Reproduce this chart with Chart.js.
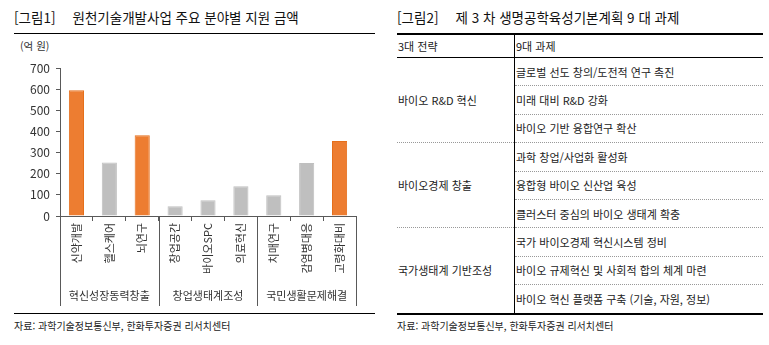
<!DOCTYPE html>
<html lang="ko">
<head>
<meta charset="utf-8">
<script src="https://cdn.jsdelivr.net/npm/chart.js@4"></script>
<style>
  body { margin: 0; background: #fff; font-family: "Noto Sans CJK KR", "Noto Sans", sans-serif; color: #222; }
  #page { position: relative; width: 769px; height: 345px; overflow: hidden; }
  .title { position: absolute; top: 7px; font-size: 13.5px; white-space: nowrap; color: #111; }
  .title .no { margin-right: 17px; }
  .rule { position: absolute; border-top: 1px solid #000; }
  .source { position: absolute; top: 318px; font-size: 10px; white-space: nowrap; color: #222; }
  #unit { position: absolute; left: 20px; top: 38px; font-size: 10.5px; color: #333; }
  #chartBox { position: absolute; left: 0; top: 0; width: 385px; height: 312px; }
  #tasks { position: absolute; left: 397px; top: 33px; width: 366px; border-collapse: collapse;
           border-top: 2px solid #000; border-bottom: 2px solid #000; font-size: 11px; }
  #tasks th, #tasks td { padding: 0 0 0 1px; text-align: left; font-weight: normal; white-space: nowrap; }
  #tasks th { height: 22px; border-bottom: 1px solid #000; }
  #tasks .c2 { border-left: 1px solid #000; }
  #tasks td { height: 27.4px; border-bottom: 1px dotted #999; }
  #tasks td.c1 { width: 116px; }
</style>
</head>
<body>
<div id="page">
  <div class="title" style="left:14px"><span class="no">[그림1]</span>원천기술개발사업 주요 분야별 지원 금액</div>
  <div class="rule" style="left:14px; top:33px; width:361px"></div>
  <div id="unit">(억 원)</div>
  <div id="chartBox"><canvas id="chart" width="385" height="312"></canvas></div>
  <div class="rule" style="left:14px; top:313px; width:361px"></div>
  <div class="source" style="left:14px">자료: 과학기술정보통신부, 한화투자증권 리서치센터</div>

  <div class="title" style="left:397px"><span class="no">[그림2]</span>제 3 차 생명공학육성기본계획 9 대 과제</div>
  <table id="tasks">
    <thead><tr><th class="c1">3대 전략</th><th class="c2">9대 과제</th></tr></thead>
    <tbody id="taskBody"></tbody>
  </table>
  <div class="source" style="left:397px">자료: 과학기술정보통신부, 한화투자증권 리서치센터</div>
</div>

<script>
// 분야별 지원 금액 (억 원)
const fields = ["신약개발", "헬스케어", "뇌연구", "창업공간", "바이오SPC", "의료혁신", "치매연구", "감염병대응", "고령화대비"];
const amounts = [595, 253, 382, 46, 75, 141, 98, 251, 355];
const highlighted = ["신약개발", "뇌연구", "고령화대비"];

// x축 아래 그룹 구분
const groupNames = ["혁신성장동력창출", "창업생태계조성", "국민생활문제해결"];
const groupSizes = [3, 3, 3];

const yTicks = [0, 100, 200, 300, 400, 500, 600, 700];

// 3대 전략 / 9대 과제
const strategies = ["바이오 R&D 혁신", "바이오경제 창출", "국가생태계 기반조성"];
const tasks = [
  ["글로벌 선도 창의/도전적 연구 촉진", "미래 대비 R&D 강화", "바이오 기반 융합연구 확산"],
  ["과학 창업/사업화 활성화", "융합형 바이오 신산업 육성", "클러스터 중심의 바이오 생태계 확충"],
  ["국가 바이오경제 혁신시스템 정비", "바이오 규제혁신 및 사회적 합의 체계 마련", "바이오 혁신 플랫폼 구축 (기술, 자원, 정보)"]
];

const ORANGE = "#ED7D31";
const GREY = "#BFBFBF";
const AXIS = "#595959";
const FONT = '"Noto Sans CJK KR", "Noto Sans", sans-serif';

// 그룹 경계선 + 그룹명
const groupLines = {
  id: "groupLines",
  afterDraw(chart) {
    const ctx = chart.ctx;
    const x = chart.scales.x;
    ctx.save();
    ctx.strokeStyle = AXIS;
    ctx.lineWidth = 1;
    ctx.fillStyle = "#333";
    ctx.font = "11px " + FONT;
    ctx.textAlign = "center";
    ctx.textBaseline = "middle";
    let start = 0;
    const edges = [x.getPixelForValue(-0.5)];
    groupSizes.forEach((n, i) => {
      const left = x.getPixelForValue(start - 0.5);
      const right = x.getPixelForValue(start + n - 0.5);
      edges.push(right);
      ctx.fillText(groupNames[i], (left + right) / 2, x.bottom - 10);
      start += n;
    });
    edges.forEach((px) => {
      const p = Math.round(px) + 0.5;
      ctx.beginPath();
      ctx.moveTo(p, x.top);
      ctx.lineTo(p, x.bottom);
      ctx.stroke();
    });
    ctx.restore();
  }
};

function createChart() {
  const colors = fields.map((f) => highlighted.includes(f) ? ORANGE : GREY);
  const borders = fields.map((f) => highlighted.includes(f) ? "#E56F1C" : GREY);
  new Chart(document.getElementById("chart"), {
    type: "bar",
    data: {
      labels: fields,
      datasets: [{
        data: amounts,
        backgroundColor: colors,
        borderColor: borders,
        borderWidth: 1,
        categoryPercentage: 1,
        barPercentage: 0.46
      }]
    },
    plugins: [groupLines],
    options: {
      responsive: false,
      animation: false,
      devicePixelRatio: 1,
      layout: { padding: { top: 68, left: 0, right: 29, bottom: 6 } },
      plugins: { legend: { display: false }, tooltip: { enabled: false } },
      scales: {
        x: {
          offset: true,
          afterFit(s) { s.height = 90; },
          border: { color: AXIS },
          grid: { offset: true, drawOnChartArea: false, tickLength: 5, color: AXIS },
          ticks: { minRotation: 90, maxRotation: 90, autoSkip: false, padding: 2, color: "#333", font: { family: FONT, size: 11 } }
        },
        y: {
          min: 0,
          max: 700,
          afterFit(s) { s.width = 60; },
          afterBuildTicks(s) { s.ticks = yTicks.map((v) => ({ value: v })); },
          border: { color: AXIS },
          grid: { drawOnChartArea: false, tickLength: 4, color: AXIS },
          ticks: { padding: 6, color: "#333", font: { family: FONT, size: 12 } }
        }
      }
    }
  });
}

function createTable() {
  const body = document.getElementById("taskBody");
  strategies.forEach((s, i) => {
    tasks[i].forEach((t, j) => {
      const tr = document.createElement("tr");
      if (j === 0) {
        const td = document.createElement("td");
        td.className = "c1";
        td.rowSpan = tasks[i].length;
        td.textContent = s;
        tr.appendChild(td);
      }
      const td2 = document.createElement("td");
      td2.className = "c2";
      td2.textContent = t;
      tr.appendChild(td2);
      body.appendChild(tr);
    });
  });
}

createTable();
createChart();
</script>
</body>
</html>
